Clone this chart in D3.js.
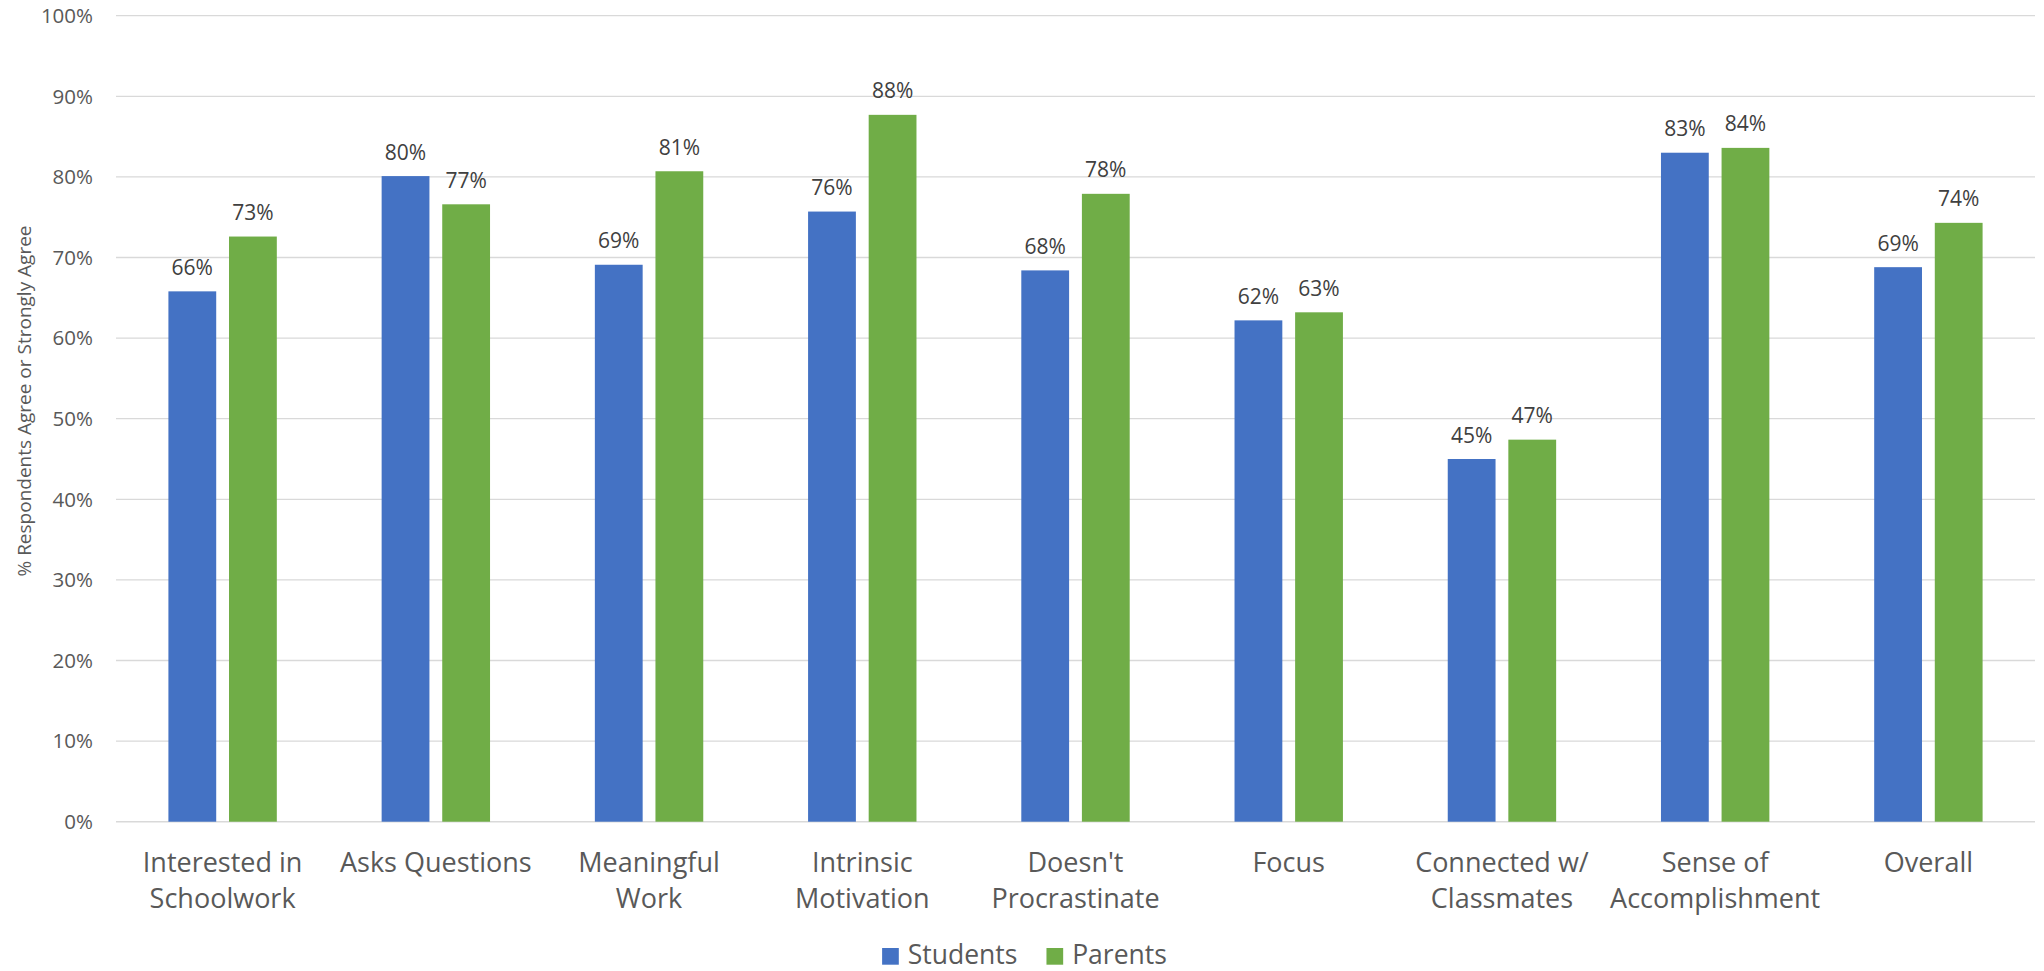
<!DOCTYPE html>
<html><head><meta charset="utf-8">
<script src="https://cdn.jsdelivr.net/npm/d3@7"></script>
<style>
html,body{margin:0;padding:0;background:#fff;}
svg{display:block;font-family:"Open Sans","Noto Sans",sans-serif;}
</style></head>
<body>
<svg id="chart" width="2044" height="971"></svg>
<script>
const categories = [["Interested in","Schoolwork"],["Asks Questions"],["Meaningful","Work"],["Intrinsic","Motivation"],["Doesn't","Procrastinate"],["Focus"],["Connected w/","Classmates"],["Sense of","Accomplishment"],["Overall"]];
const seriesNames = ["Students","Parents"];
const students = [65.8, 80.1, 69.1, 75.7, 68.4, 62.2, 45.0, 83.0, 68.8];
const parents  = [72.6, 76.6, 80.7, 87.7, 77.9, 63.2, 47.4, 83.6, 74.3];
const yTicks = [0,10,20,30,40,50,60,70,80,90,100];
const colors = ["#4472C4","#70AD47"];
const yTitle = "% Respondents Agree or Strongly Agree";

(function(){
const svg = d3.select("#chart");
const pLeft = 116, pRight = 2035, pTop = 15.7, pBottom = 821.7;
const x = d3.scaleBand().domain(d3.range(categories.length)).range([pLeft, pRight]).padding(0);
const y = d3.scaleLinear().domain([0,100]).range([pBottom, pTop]);
const barW = 47.8, gap = 12.8;

svg.append("g").selectAll("line").data(yTicks).join("line")
  .attr("x1", pLeft).attr("x2", pRight)
  .attr("y1", d=>y(d)).attr("y2", d=>y(d))
  .attr("stroke", "#d9d9d9").attr("stroke-width", d=> d===0 ? 1.6 : 1.3);

svg.append("g").selectAll("text").data(yTicks).join("text")
  .attr("x", 93).attr("y", d=>y(d)).attr("dy","0.36em")
  .attr("text-anchor","end").attr("fill","#595959").attr("font-size", 20.5)
  .text(d=>d+"%");

svg.append("text").attr("transform","translate(31,401) rotate(-90)")
  .attr("text-anchor","middle").attr("fill","#595959").attr("font-size",19)
  .text(yTitle);

const series = [students, parents];
series.forEach((vals, si) => {
  const g = svg.append("g");
  const bx = i => x(i) + x.bandwidth()/2 + (si===0 ? -gap/2 - barW : gap/2);
  g.selectAll("rect").data(vals).join("rect")
    .attr("x", (d,i)=>bx(i)).attr("width", barW)
    .attr("y", d=>y(d)).attr("height", d=>y(0)-y(d))
    .attr("fill", colors[si]);
  g.selectAll("text").data(vals).join("text")
    .attr("x", (d,i)=>bx(i)+barW/2).attr("y", d=>y(d)-16.5)
    .attr("text-anchor","middle").attr("fill","#404040").attr("font-size",21)
    .text(d=>Math.round(d)+"%");
});

const cg = svg.append("g");
categories.forEach((lines,i)=>{
  const t = cg.append("text").attr("x", x(i)+x.bandwidth()/2).attr("y", 871.5)
    .attr("text-anchor","middle").attr("fill","#595959").attr("font-size",27);
  lines.forEach((ln,j)=>{
    t.append("tspan").attr("x", x(i)+x.bandwidth()/2).attr("dy", j===0?0:36.7).text(ln);
  });
});

const lg = svg.append("g");
const items = seriesNames.map((n,i)=>{
  const g = lg.append("g");
  g.append("rect").attr("width",16.7).attr("height",16.7).attr("y",948).attr("fill",colors[i]);
  const t = g.append("text").attr("x",16.7+9).attr("y",964).attr("fill","#595959").attr("font-size",26.5).text(n);
  return {g, w: 16.7+9+t.node().getComputedTextLength()};
});
const spacing = 29;
const total = d3.sum(items, d=>d.w) + spacing*(items.length-1);
let cx = 1024.5 - total/2;
items.forEach(it=>{ it.g.attr("transform",`translate(${cx},0)`); cx += it.w + spacing; });
})();
</script>
</body></html>
